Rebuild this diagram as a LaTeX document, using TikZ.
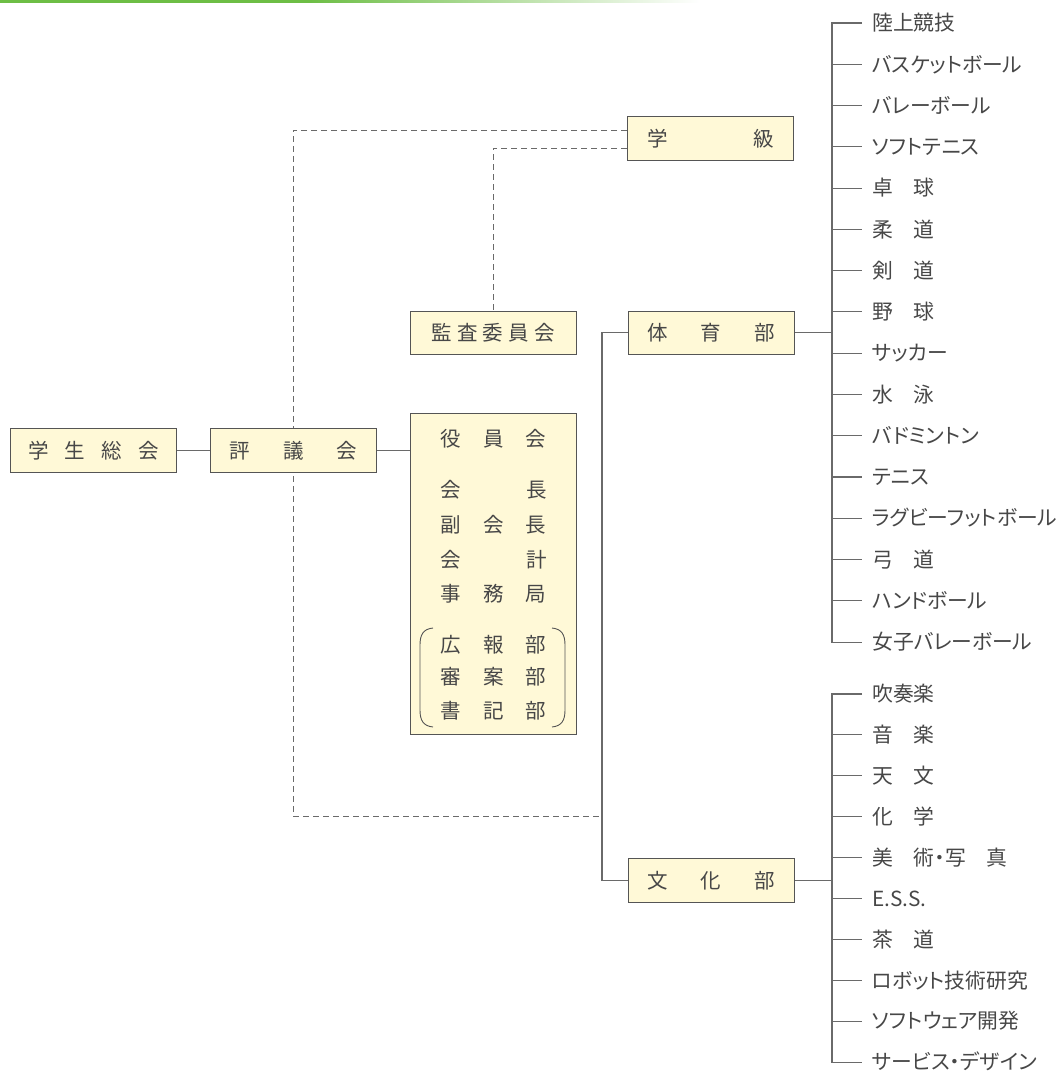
\documentclass[tikz,border=0pt]{standalone}
\usepackage{fontspec}
\setmainfont{Noto Sans CJK JP}
\newfontfamily\jpfont[RawFeature=+palt]{Noto Sans CJK JP}
\usetikzlibrary{backgrounds}
\definecolor{boxfill}{HTML}{FFF9D7}
\definecolor{boxline}{HTML}{555555}
\definecolor{lineg}{HTML}{6A6A6A}
\definecolor{txt}{HTML}{474747}
\definecolor{topgreen}{HTML}{6DBE45}
\pgfdeclarehorizontalshading{greenfade}{100bp}{color(0bp)=(topgreen); color(25bp)=(topgreen); color(47bp)=(topgreen); color(75bp)=(white); color(100bp)=(white)}
\begin{document}
\begin{tikzpicture}[x=1pt,y=-1pt,
  lbl/.style={font=\fontsize{20.5}{24}\selectfont, text=txt, inner sep=0pt, text height=18pt, text depth=2.5pt},
  box/.style={lbl, draw=boxline, fill=boxfill, line width=1pt, minimum width=166pt, minimum height=44pt},
  item/.style={lbl, anchor=west, font=\jpfont\fontsize{20.8}{24}\selectfont},
  conn/.style={draw=lineg, line width=1.1pt},
  dsh/.style={draw=lineg, line width=1pt, dash pattern=on 6pt off 4pt},
  paren/.style={draw=boxline, line width=0.9pt},
]
\useasboundingbox (0,0) rectangle (1061,1077);
% top green rule
\shade[shading=greenfade] (0,0) rectangle (700,2);

% boxes
\node[box] (soukai) at (93.5,450.5) {\makebox[131pt][s]{学\hfill 生\hfill 総\hfill 会}};
\node[box] (hyogi) at (293.5,450.5) {\makebox[128pt][s]{評\hfill 議\hfill 会}};
\node[box] (gakkyu) at (710.5,138.5) {\makebox[127pt][s]{学\hfill 級}};
\node[box, minimum height=43pt] (kansa) at (493,332.5) {\makebox[123pt][s]{監\hfill 査\hfill 委\hfill 員\hfill 会}};
\node[box, minimum height=43pt] (taiiku) at (711,332.5) {\makebox[127pt][s]{体\hfill 育\hfill 部}};
\node[box] (bunka) at (711,880.5) {\makebox[127pt][s]{文\hfill 化\hfill 部}};
\node[box, minimum height=321pt] (yakuin) at (493,573.5) {};

% officer rows
\node[lbl] (r1) at (493.5,439) {\makebox[106pt][s]{役\hfill 員\hfill 会}};
\node[lbl] (r2) at (493.5,490) {\makebox[106pt][s]{会\hfill 長}};
\node[lbl] (r3) at (493.5,525) {\makebox[106pt][s]{副\hfill 会\hfill 長}};
\node[lbl] (r4) at (493.5,560) {\makebox[106pt][s]{会\hfill 計}};
\node[lbl] (r5) at (493.5,594) {\makebox[106pt][s]{事\hfill 務\hfill 局}};
\node[lbl] (r6) at (493.5,645) {\makebox[106pt][s]{広\hfill 報\hfill 部}};
\node[lbl] (r7) at (493.5,677) {\makebox[106pt][s]{審\hfill 案\hfill 部}};
\node[lbl] (r8) at (493.5,711) {\makebox[106pt][s]{書\hfill 記\hfill 部}};
% brackets
\draw[paren] (433,628) .. controls (423,629) and (420,635) .. (420,645) -- (420,710) .. controls (420,720) and (423,726) .. (433,727);
\draw[paren] (552,628) .. controls (562,629) and (565,635) .. (565,645) -- (565,710) .. controls (565,720) and (562,726) .. (552,727);

% junction coordinates
\coordinate (tj) at (602,332.5);
\coordinate (dcorner) at (293,816);
\coordinate (sbx) at (832,0);

% lists
\foreach \t [count=\i] in {陸上競技,バスケットボール,バレーボール,ソフトテニス,卓　球,柔　道,剣　道,野　球,サッカー,水　泳,バドミントン,テニス,ラグビーフットボール,弓　道,ハンドボール,女子バレーボール}
  \node[item] (sp\i) at (872,{23+41.27*(\i-1)}) {\t};
\foreach \t [count=\i] in {吹奏楽,音　楽,天　文,化　学,美　術・写　真,E.S.S.,茶　道,ロボット技術研究,ソフトウェア開発,サービス・デザイン}
  \node[item] (cu\i) at (872,{694+40.9*(\i-1)}) {\t};

\begin{scope}[on background layer]
  \draw[dsh] ([yshift=8.5pt]gakkyu.west) -| (dcorner) -- (dcorner -| tj);
  \draw[dsh] ([yshift=-9.5pt]gakkyu.west) -| (kansa.north);
  \draw[conn] (soukai.east) -- (hyogi.west);
  \draw[conn] (hyogi.east) -- (hyogi.east -| yakuin.west);
  \draw[conn] (taiiku.west) -- (tj) |- (bunka.west);
  \draw[conn] (taiiku.east) -- (taiiku.east -| sbx);
  \draw[conn] (bunka.east) -- (bunka.east -| sbx);
  \draw[conn] ([xshift=-10pt]sp1.west) -- (sp1.west -| sbx) -- (sp16.west -| sbx) -- ([xshift=-10pt]sp16.west);
  \foreach \i in {2,...,15}
    \draw[conn] (sp\i.west -| sbx) -- ([xshift=-10pt]sp\i.west);
  \draw[conn] ([xshift=-10pt]cu1.west) -- (cu1.west -| sbx) -- (cu10.west -| sbx) -- ([xshift=-10pt]cu10.west);
  \foreach \i in {2,...,9}
    \draw[conn] (cu\i.west -| sbx) -- ([xshift=-10pt]cu\i.west);
\end{scope}
\end{tikzpicture}
\end{document}
